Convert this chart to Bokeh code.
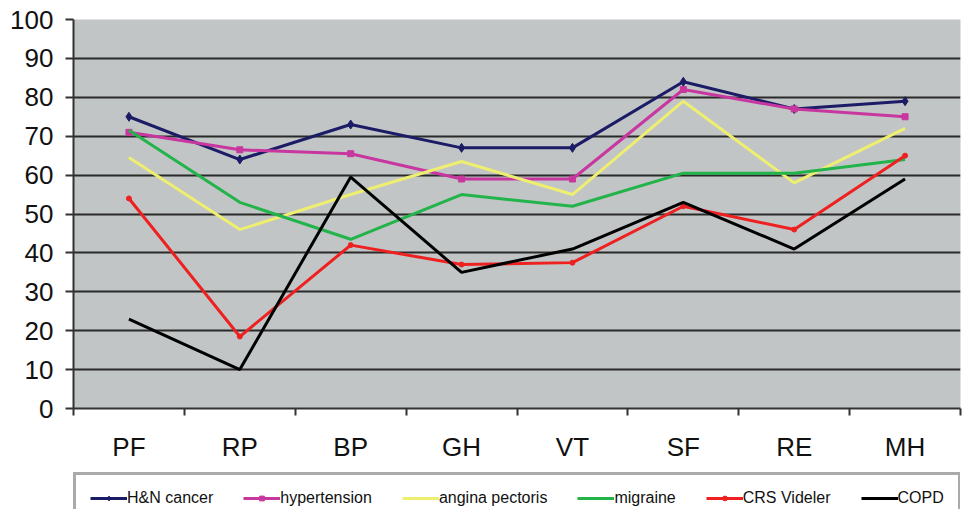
from bokeh.plotting import figure
from bokeh.layouts import column
from bokeh.models import Range1d, FixedTicker, Legend, LegendItem
from bokeh.embed import file_html
from bokeh.resources import INLINE

categories = ["PF", "RP", "BP", "GH", "VT", "SF", "RE", "MH"]
hn_cancer = [75, 64, 73, 67, 67, 84, 77, 79]
hypertension = [71, 66.5, 65.5, 59, 59, 82, 77, 75]
angina = [64.5, 46, 55, 63.5, 55, 79, 58, 72]
migraine = [71.5, 53, 43.5, 55, 52, 60.5, 60.5, 64]
crs_videler = [54, 18.5, 42, 37, 37.5, 52, 46, 65]
copd = [23, 10, 59.5, 35, 41, 53, 41, 59]
y_ticks = [0, 10, 20, 30, 40, 50, 60, 70, 80, 90, 100]

FONT = "Liberation Sans"
xs = list(range(len(categories)))

p = figure(width=962, height=472, output_backend="svg", toolbar_location=None,
           x_range=Range1d(-0.5, len(categories) - 0.5), y_range=Range1d(0, 100),
           min_border_left=73, min_border_right=2, min_border_top=19, min_border_bottom=64)
p.outline_line_color = None
p.background_fill_color = "#c1c5c5"
p.border_fill_color = "white"

# x axis: labels at centers, tick marks at category boundaries
p.xaxis.ticker = FixedTicker(ticks=xs, minor_ticks=[i - 0.5 for i in range(len(categories) + 1)])
p.xaxis.major_label_overrides = {i: c for i, c in enumerate(categories)}
p.xaxis.major_tick_out = 0
p.xaxis.major_tick_in = 0
p.xaxis.minor_tick_out = 7
p.xaxis.minor_tick_in = 0
p.xaxis.minor_tick_line_color = "#333333"
p.xaxis.minor_tick_line_width = 2
p.xaxis.axis_line_color = "#333333"
p.xaxis.axis_line_width = 2
p.xaxis.major_label_text_font = FONT
p.xaxis.major_label_text_font_size = "26px"
p.xaxis.major_label_text_color = "#111111"
p.xaxis.major_label_standoff = 16

p.yaxis.ticker = FixedTicker(ticks=y_ticks)
p.yaxis.major_tick_out = 8
p.yaxis.major_tick_in = 0
p.yaxis.major_tick_line_color = "#333333"
p.yaxis.major_tick_line_width = 2
p.yaxis.minor_tick_line_color = None
p.yaxis.axis_line_color = "#333333"
p.yaxis.axis_line_width = 2
p.yaxis.major_label_text_font = FONT
p.yaxis.major_label_text_font_size = "26px"
p.yaxis.major_label_text_color = "#111111"
p.yaxis.major_label_standoff = 12

p.xgrid.grid_line_color = None
p.ygrid.ticker = FixedTicker(ticks=y_ticks[1:-1])
p.ygrid.grid_line_color = "#2a2a2a"
p.ygrid.grid_line_width = 2

series = [
    ("H&N cancer", hn_cancer, "#1c1c66", "diamond", 9),
    ("hypertension", hypertension, "#c8379f", "square", 6),
    ("angina pectoris", angina, "#eeee70", None, 0),
    ("migraine", migraine, "#22b34a", None, 0),
    ("CRS Videler", crs_videler, "#ee2020", "circle", 5),
    ("COPD", copd, "#000000", None, 0),
]

# separate strip for the legend below the chart (series drawn out of its view)
pl = figure(width=962, height=37, output_backend="svg", toolbar_location=None,
            x_range=p.x_range, y_range=Range1d(500, 501),
            min_border_left=73, min_border_right=2, min_border_top=0, min_border_bottom=0)
pl.axis.visible = False
pl.grid.visible = False
pl.outline_line_color = None

items = []
for name, vals, color, marker, size in series:
    p.line(xs, vals, line_color=color, line_width=3)
    if marker:
        p.scatter(xs, vals, marker=marker, size=size, fill_color=color, line_color=color)
    r = [pl.line(xs, vals, line_color=color, line_width=3)]
    if marker:
        r.append(pl.scatter(xs, vals, marker=marker, size=size, fill_color=color, line_color=color))
    items.append(LegendItem(label=name, renderers=r))

legend = Legend(items=items, orientation="horizontal", location="top_left",
                glyph_width=37, glyph_height=12, label_height=12, label_standoff=0,
                spacing=30, padding=14, margin=0,
                label_text_font=FONT, label_text_font_size="16px", label_text_color="#111111",
                border_line_color="#555555", border_line_width=3,
                background_fill_color="white", background_fill_alpha=1)
pl.add_layout(legend, "center")

layout = column(p, pl, spacing=0)
open("out.html", "w").write(file_html(layout, INLINE))
